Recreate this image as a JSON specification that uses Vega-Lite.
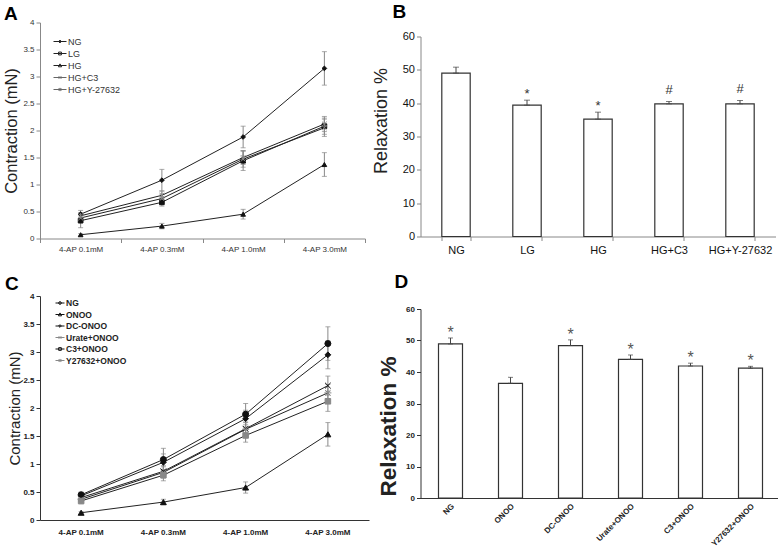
{
  "$schema": "https://vega.github.io/schema/vega-lite/v6.json",
  "padding": {"left": 3, "top": 2.5, "right": 0, "bottom": 0},
  "background": "white",
  "spacing": 3.5,
  "config": {
    "font": "Liberation Sans",
    "view": {"stroke": null},
    "axis": {"grid": false, "domainColor": "#888", "tickColor": "#888", "labelColor": "#333", "titleColor": "#222", "titleFontWeight": "normal", "labelOverlap": false}
  },
  "datasets": {
    "lineA": [
      {"dose": "4-AP 0.1mM", "group": "NG", "mean": 0.45, "err": 0.07},
      {"dose": "4-AP 0.3mM", "group": "NG", "mean": 1.08, "err": 0.2},
      {"dose": "4-AP 1.0mM", "group": "NG", "mean": 1.88, "err": 0.2},
      {"dose": "4-AP 3.0mM", "group": "NG", "mean": 3.15, "err": 0.31},
      {"dose": "4-AP 0.1mM", "group": "LG", "mean": 0.33, "err": 0.13},
      {"dose": "4-AP 0.3mM", "group": "LG", "mean": 0.67, "err": 0.07},
      {"dose": "4-AP 1.0mM", "group": "LG", "mean": 1.44, "err": 0.18},
      {"dose": "4-AP 3.0mM", "group": "LG", "mean": 2.08, "err": 0.15},
      {"dose": "4-AP 0.1mM", "group": "HG", "mean": 0.07, "err": 0.02},
      {"dose": "4-AP 0.3mM", "group": "HG", "mean": 0.23, "err": 0.05},
      {"dose": "4-AP 1.0mM", "group": "HG", "mean": 0.45, "err": 0.09},
      {"dose": "4-AP 3.0mM", "group": "HG", "mean": 1.37, "err": 0.22},
      {"dose": "4-AP 0.1mM", "group": "HG+C3", "mean": 0.38, "err": 0.06},
      {"dose": "4-AP 0.3mM", "group": "HG+C3", "mean": 0.74, "err": 0.08},
      {"dose": "4-AP 1.0mM", "group": "HG+C3", "mean": 1.47, "err": 0.15},
      {"dose": "4-AP 3.0mM", "group": "HG+C3", "mean": 2.05, "err": 0.16},
      {"dose": "4-AP 0.1mM", "group": "HG+Y-27632", "mean": 0.42, "err": 0.06},
      {"dose": "4-AP 0.3mM", "group": "HG+Y-27632", "mean": 0.8, "err": 0.08},
      {"dose": "4-AP 1.0mM", "group": "HG+Y-27632", "mean": 1.5, "err": 0.13},
      {"dose": "4-AP 3.0mM", "group": "HG+Y-27632", "mean": 2.12, "err": 0.14}
    ],
    "lineC": [
      {"dose": "4-AP 0.1mM", "group": "NG", "mean": 0.45, "err": 0.05},
      {"dose": "4-AP 0.3mM", "group": "NG", "mean": 1.08, "err": 0.2},
      {"dose": "4-AP 1.0mM", "group": "NG", "mean": 1.89, "err": 0.19},
      {"dose": "4-AP 3.0mM", "group": "NG", "mean": 3.15, "err": 0.3},
      {"dose": "4-AP 0.1mM", "group": "ONOO", "mean": 0.13, "err": 0.02},
      {"dose": "4-AP 0.3mM", "group": "ONOO", "mean": 0.32, "err": 0.05},
      {"dose": "4-AP 1.0mM", "group": "ONOO", "mean": 0.58, "err": 0.1},
      {"dose": "4-AP 3.0mM", "group": "ONOO", "mean": 1.53, "err": 0.21},
      {"dose": "4-AP 0.1mM", "group": "DC-ONOO", "mean": 0.43, "err": 0.05},
      {"dose": "4-AP 0.3mM", "group": "DC-ONOO", "mean": 1.03, "err": 0.15},
      {"dose": "4-AP 1.0mM", "group": "DC-ONOO", "mean": 1.81, "err": 0.15},
      {"dose": "4-AP 3.0mM", "group": "DC-ONOO", "mean": 2.95, "err": 0.25},
      {"dose": "4-AP 0.1mM", "group": "Urate+ONOO", "mean": 0.4, "err": 0.04},
      {"dose": "4-AP 0.3mM", "group": "Urate+ONOO", "mean": 0.87, "err": 0.1},
      {"dose": "4-AP 1.0mM", "group": "Urate+ONOO", "mean": 1.63, "err": 0.12},
      {"dose": "4-AP 3.0mM", "group": "Urate+ONOO", "mean": 2.4, "err": 0.17},
      {"dose": "4-AP 0.1mM", "group": "C3+ONOO", "mean": 0.34, "err": 0.05},
      {"dose": "4-AP 0.3mM", "group": "C3+ONOO", "mean": 0.8, "err": 0.1},
      {"dose": "4-AP 1.0mM", "group": "C3+ONOO", "mean": 1.51, "err": 0.12},
      {"dose": "4-AP 3.0mM", "group": "C3+ONOO", "mean": 2.12, "err": 0.18},
      {"dose": "4-AP 0.1mM", "group": "Y27632+ONOO", "mean": 0.37, "err": 0.05},
      {"dose": "4-AP 0.3mM", "group": "Y27632+ONOO", "mean": 0.85, "err": 0.1},
      {"dose": "4-AP 1.0mM", "group": "Y27632+ONOO", "mean": 1.62, "err": 0.12},
      {"dose": "4-AP 3.0mM", "group": "Y27632+ONOO", "mean": 2.27, "err": 0.15}
    ],
    "barB": [
      {"group": "NG", "mean": 49.0, "hi": 50.8, "sig": ""},
      {"group": "LG", "mean": 39.4, "hi": 40.9, "sig": "*"},
      {"group": "HG", "mean": 35.2, "hi": 37.3, "sig": "*"},
      {"group": "HG+C3", "mean": 39.8, "hi": 40.5, "sig": "#"},
      {"group": "HG+Y-27632", "mean": 39.8, "hi": 40.8, "sig": "#"}
    ],
    "barD": [
      {"group": "NG", "mean": 48.9, "hi": 50.8, "sig": "*"},
      {"group": "ONOO", "mean": 36.4, "hi": 38.3, "sig": ""},
      {"group": "DC-ONOO", "mean": 48.4, "hi": 50.2, "sig": "*"},
      {"group": "Urate+ONOO", "mean": 44.0, "hi": 45.4, "sig": "*"},
      {"group": "C3+ONOO", "mean": 41.9, "hi": 42.8, "sig": "*"},
      {"group": "Y27632+ONOO", "mean": 41.2, "hi": 41.8, "sig": "*"}
    ]
  },
  "hconcat": [
    {
      "spacing": 21.5,
      "vconcat": [
        {
          "width": 325, "height": 216,
          "title": {"text": "A", "anchor": "start", "frame": "group", "fontSize": 19, "fontWeight": "bold", "dx": -36, "offset": -5.3, "color": "#000"},
          "data": {"name": "lineA"},
          "encoding": {
            "x": {"field": "dose", "type": "nominal", "sort": null,
                  "scale": {"type": "band", "paddingInner": 0, "paddingOuter": 0},
                  "axis": {"title": null, "labelAngle": 0, "labelFontSize": 8, "tickBand": "extent", "tickSize": 4, "labelPadding": 3}},
            "y": {"field": "mean", "type": "quantitative", "title": "Contraction (mN)", "scale": {"domain": [0, 4], "nice": false},
                  "axis": {"titleFontSize": 16.5, "values": [0, 0.5, 1, 1.5, 2, 2.5, 3, 3.5, 4], "format": "~g", "labelFontSize": 8, "tickSize": 4, "titlePadding": 3}}
          },
          "layer": [
            {
              "mark": {"type": "errorbar", "ticks": {"size": 5}, "color": "#888"},
              "encoding": {"yError": {"field": "err"}, "detail": {"field": "group"}}
            },
            {
              "mark": {"type": "line", "color": "#222", "strokeWidth": 1},
              "encoding": {"detail": {"field": "group"}}
            },
            {
              "mark": {"type": "point", "strokeWidth": 1, "opacity": 1, "size": 22},
              "encoding": {
                "shape": {"field": "group", "type": "nominal", "legend": null,
                          "scale": {"domain": ["NG", "LG", "HG", "HG+C3", "HG+Y-27632"],
                                    "range": ["diamond", "square", "triangle-up", "M-1,-1L1,1M-1,1L1,-1", "M-1,-1L1,1M-1,1L1,-1M0,-1.2V1.2"]}},
                "fill": {"field": "group", "type": "nominal", "legend": null,
                         "scale": {"domain": ["NG", "LG", "HG", "HG+C3", "HG+Y-27632"], "range": ["#111", "#111", "#111", "#888", "#888"]}},
                "stroke": {"field": "group", "type": "nominal", "legend": null,
                           "scale": {"domain": ["NG", "LG", "HG", "HG+C3", "HG+Y-27632"], "range": ["#111", "#111", "#111", "#888", "#888"]}}
              }
            },
            {
              "mark": {"type": "point", "filled": false, "opacity": 0},
              "encoding": {
                "shape": {"field": "group", "type": "nominal",
                          "scale": {"domain": ["NG", "LG", "HG", "HG+C3", "HG+Y-27632"],
                                    "range": ["M-1,0H1M0,-0.22L0.22,0L0,0.22L-0.22,0Z", "M-1,0H1M-0.22,-0.22H0.22V0.22H-0.22Z", "M-1,0H1M0,-0.25L0.25,0.2H-0.25Z", "M-1,0H1M-0.2,-0.2L0.2,0.2M-0.2,0.2L0.2,-0.2", "M-1,0H1M-0.2,-0.2L0.2,0.2M-0.2,0.2L0.2,-0.2M0,-0.25V0.25"]},
                          "legend": {"orient": "none", "legendX": 13, "legendY": 12, "title": null, "labelFontSize": 9, "labelColor": "#333", "symbolSize": 169, "symbolStrokeWidth": 1, "symbolOpacity": 1, "rowPadding": -3.1, "labelOffset": 1}},
                "color": {"field": "group", "type": "nominal",
                          "scale": {"domain": ["NG", "LG", "HG", "HG+C3", "HG+Y-27632"], "range": ["#222", "#222", "#222", "#666", "#666"]},
                          "legend": {"orient": "none", "legendX": 13, "legendY": 12, "title": null, "labelFontSize": 9, "labelColor": "#333", "symbolSize": 169, "symbolStrokeWidth": 1, "symbolOpacity": 1, "rowPadding": -3.1, "labelOffset": 1}}
              }
            }
          ],
          "resolve": {"scale": {"shape": "independent", "color": "independent"}}
        },
        {
          "width": 329, "height": 224,
          "title": {"text": "C", "anchor": "start", "frame": "group", "fontSize": 19, "fontWeight": "bold", "dx": -35, "offset": -2, "color": "#000"},
          "data": {"name": "lineC"},
          "encoding": {
            "x": {"field": "dose", "type": "nominal", "sort": null,
                  "scale": {"type": "band", "paddingInner": 0, "paddingOuter": 0},
                  "axis": {"title": null, "labelAngle": 0, "labelFontSize": 8, "labelFontWeight": "bold", "ticks": false, "labelPadding": 8, "domainColor": "#333", "labelColor": "#222"}},
            "y": {"field": "mean", "type": "quantitative", "title": "Contraction (mN)", "scale": {"domain": [0, 4], "nice": false},
                  "axis": {"titleFontSize": 15, "values": [0, 0.5, 1, 1.5, 2, 2.5, 3, 3.5, 4], "format": "~g", "labelFontSize": 8, "labelFontWeight": "bold", "labelColor": "#222", "tickSize": 4, "titlePadding": 0, "domainColor": "#333", "tickColor": "#333"}}
          },
          "layer": [
            {
              "mark": {"type": "errorbar", "ticks": {"size": 5}, "color": "#888"},
              "encoding": {"yError": {"field": "err"}, "detail": {"field": "group"}}
            },
            {
              "mark": {"type": "line", "color": "#222", "strokeWidth": 1},
              "encoding": {"detail": {"field": "group"}}
            },
            {
              "mark": {"type": "point", "strokeWidth": 1, "opacity": 1},
              "encoding": {
                "size": {"field": "group", "type": "nominal", "legend": null,
                         "scale": {"domain": ["NG", "ONOO", "DC-ONOO", "Urate+ONOO", "C3+ONOO", "Y27632+ONOO"], "range": [36, 30, 20, 30, 40, 30]}},
                "shape": {"field": "group", "type": "nominal", "legend": null,
                          "scale": {"domain": ["NG", "ONOO", "DC-ONOO", "Urate+ONOO", "C3+ONOO", "Y27632+ONOO"],
                                    "range": ["circle", "triangle-up", "diamond", "M-1,-1L1,1M-1,1L1,-1", "square", "M-1,-1L1,1M-1,1L1,-1M-1.3,0H1.3"]}},
                "fill": {"field": "group", "type": "nominal", "legend": null,
                         "scale": {"domain": ["NG", "ONOO", "DC-ONOO", "Urate+ONOO", "C3+ONOO", "Y27632+ONOO"], "range": ["#111", "#111", "#111", "#999", "#111", "#999"]}},
                "stroke": {"field": "group", "type": "nominal", "legend": null,
                           "scale": {"domain": ["NG", "ONOO", "DC-ONOO", "Urate+ONOO", "C3+ONOO", "Y27632+ONOO"], "range": ["#111", "#111", "#111", "#999", "#111", "#999"]}}
              }
            },
            {
              "mark": {"type": "point", "filled": false, "opacity": 0},
              "encoding": {
                "shape": {"field": "group", "type": "nominal",
                          "scale": {"domain": ["NG", "ONOO", "DC-ONOO", "Urate+ONOO", "C3+ONOO", "Y27632+ONOO"],
                                    "range": ["M-1,0H1M-0.3,0A0.3,0.3,0,1,0,0.3,0A0.3,0.3,0,1,0,-0.3,0Z", "M-1,0H1M0,-0.35L0.35,0.3H-0.35Z", "M-1,0H1M0,-0.3L0.3,0L0,0.3L-0.3,0Z", "M-1,0H1M-0.3,-0.3L0.3,0.3M-0.3,0.3L0.3,-0.3", "M-1,0H1M-0.3,-0.3H0.3V0.3H-0.3Z", "M-1,0H1M-0.3,-0.3L0.3,0.3M-0.3,0.3L0.3,-0.3M0,-0.35V0.35"]},
                          "legend": {"orient": "none", "legendX": 15, "legendY": 2, "title": null, "labelFontSize": 8.5, "labelFontWeight": "bold", "labelColor": "#222", "symbolSize": 81, "symbolStrokeWidth": 1, "symbolOpacity": 1, "rowPadding": 1.5, "labelOffset": 1}},
                "color": {"field": "group", "type": "nominal",
                          "scale": {"domain": ["NG", "ONOO", "DC-ONOO", "Urate+ONOO", "C3+ONOO", "Y27632+ONOO"], "range": ["#111", "#111", "#111", "#888", "#111", "#888"]},
                          "legend": {"orient": "none", "legendX": 15, "legendY": 2, "title": null, "labelFontSize": 8.5, "labelFontWeight": "bold", "labelColor": "#222", "symbolSize": 81, "symbolStrokeWidth": 1, "symbolOpacity": 1, "rowPadding": 1.5, "labelOffset": 1}}
              }
            }
          ],
          "resolve": {"scale": {"shape": "independent", "color": "independent"}}
        }
      ]
    },
    {
      "spacing": 17.5,
      "vconcat": [
        {
          "width": 355, "height": 214,
          "title": {"text": "B", "anchor": "start", "frame": "group", "fontSize": 19, "fontWeight": "bold", "dx": -28, "offset": 0.8, "color": "#000"},
          "data": {"name": "barB"},
          "encoding": {
            "x": {"field": "group", "type": "nominal", "sort": null,
                  "scale": {"paddingInner": 0.6, "paddingOuter": 0.3},
                  "axis": {"title": null, "labelAngle": 0, "labelFontSize": 11, "tickBand": "extent", "tickSize": 4, "labelPadding": 3.5, "labelColor": "#111"}},
            "y": {"field": "mean", "type": "quantitative", "title": "Relaxation %", "scale": {"domain": [0, 64.2], "nice": false},
                  "axis": {"titleFontSize": 18, "titleY": 98, "values": [0, 10, 20, 30, 40, 50, 60], "labelFontSize": 11, "labelColor": "#111", "tickSize": 4, "titlePadding": 11.5, "domainDash": [200, 40]}}
          },
          "layer": [
            {
              "mark": {"type": "bar", "fill": "white", "stroke": "#333", "strokeWidth": 1.2}
            },
            {
              "mark": {"type": "errorbar", "ticks": {"size": 6}, "color": "#444"},
              "encoding": {"y2": {"field": "hi"}}
            },
            {
              "transform": [{"filter": "datum.sig == '*'"}],
              "mark": {"type": "text", "fontSize": 13, "baseline": "alphabetic", "dy": -2, "color": "#333"},
              "encoding": {"y": {"field": "hi", "type": "quantitative", "title": "Relaxation %"}, "text": {"field": "sig"}}
            },
            {
              "transform": [{"filter": "datum.sig == '#'"}],
              "mark": {"type": "text", "fontSize": 13, "baseline": "alphabetic", "dy": -8, "color": "#333"},
              "encoding": {"y": {"field": "hi", "type": "quantitative", "title": "Relaxation %"}, "text": {"field": "sig"}}
            }
          ]
        },
        {
          "width": 360, "height": 189,
          "title": {"text": "D", "anchor": "start", "frame": "group", "fontSize": 19, "fontWeight": "bold", "dx": -26, "offset": 12.7, "color": "#000"},
          "data": {"name": "barD"},
          "encoding": {
            "x": {"field": "group", "type": "nominal", "sort": null,
                  "scale": {"paddingInner": 0.6, "paddingOuter": 0.3},
                  "axis": {"title": null, "labelAngle": -45, "labelFontSize": 8, "labelFontWeight": "bold", "ticks": false, "labelPadding": 4, "domainColor": "#333", "labelColor": "#222"}},
            "y": {"field": "mean", "type": "quantitative", "title": "Relaxation %", "scale": {"domain": [0, 60], "nice": false},
                  "axis": {"titleFontSize": 22.5, "titleFontWeight": "bold", "titleY": 117, "values": [0, 10, 20, 30, 40, 50, 60], "labelFontSize": 8, "labelFontWeight": "bold", "labelColor": "#222", "tickSize": 4, "titlePadding": 5.5, "domainColor": "#333", "tickColor": "#333"}}
          },
          "layer": [
            {
              "mark": {"type": "bar", "fill": "white", "stroke": "#333", "strokeWidth": 1.2}
            },
            {
              "mark": {"type": "errorbar", "ticks": {"size": 5}, "color": "#444"},
              "encoding": {"y2": {"field": "hi"}}
            },
            {
              "transform": [{"filter": "datum.sig == '*'"}],
              "mark": {"type": "text", "fontSize": 16, "baseline": "alphabetic", "dy": 0, "color": "#555"},
              "encoding": {"y": {"field": "hi", "type": "quantitative", "title": "Relaxation %"}, "text": {"field": "sig"}}
            }
          ]
        }
      ]
    }
  ]
}
